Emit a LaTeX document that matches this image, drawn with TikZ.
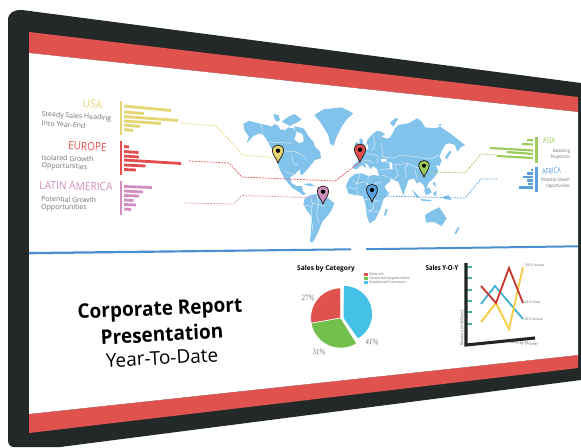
\documentclass[tikz,border=0pt]{standalone}
\usepackage{fontspec}
\setmainfont{Open Sans}
\newfontfamily\serifnum{Liberation Serif}
\definecolor{frame}{HTML}{232928}
\definecolor{band}{HTML}{E0524D}
\definecolor{usac}{HTML}{E6D673}
\definecolor{eurc}{HTML}{E24E4E}
\definecolor{latc}{HTML}{D08FBF}
\definecolor{asic}{HTML}{9CCB5C}
\definecolor{afrc}{HTML}{5AA0DC}
\definecolor{mapc}{HTML}{82C3EC}
\definecolor{rule}{HTML}{4A90D0}
\definecolor{pieb}{HTML}{45C1E8}
\definecolor{pieg}{HTML}{72BF4E}
\definecolor{linr}{HTML}{C9362E}
\definecolor{liny}{HTML}{F6CB45}
\definecolor{linb}{HTML}{3FB1D4}
\definecolor{tickc}{HTML}{4FB583}
\tikzset{
  land/.style={fill=mapc,draw=none},
  border/.style={draw=white,line width=.3pt,opacity=.85},
  hbar/.style={line width=2.1pt},
  vbar/.style={line width=1.7pt},
  link/.style={line width=.55pt,dash pattern=on 1.3pt off .9pt},
  gray text/.style={text=black!55,font=\fontsize{5.25}{6}\selectfont,inner sep=0pt},
  tiny text/.style={text=black!60,font=\fontsize{2.6}{3}\selectfont,inner sep=0pt},
  head/.style={inner sep=0pt},
  pct/.style={text=black!55,font=\serifnum\fontsize{6.2}{7}\selectfont,inner sep=0pt},
  series/.style={line width=1.35pt},
  pinshape/.pic={
    \path[pic actions,draw=black!85,line width=.6pt]
      (0,0) .. controls (-1.2,-4) and (-5.6,-8) .. (-5.6,-12.5)
      .. controls (-5.6,-16) and (-3,-18) .. (0,-18)
      .. controls (3,-18) and (5.6,-16) .. (5.6,-12.5)
      .. controls (5.6,-8) and (1.2,-4) .. (0,0) -- cycle;
    \fill[black] (0,-12.3) circle[radius=2.2];
  }
}
\begin{document}
\begin{tikzpicture}[x=.75pt,y=-.75pt]
\useasboundingbox (0,0) rectangle (581,447);
% monitor
\fill[white] (0,0) rectangle (581,447);
\fill[frame] (8,20) .. controls (8,13) and (14,9.5) .. (22,10) -- (581,83) -- (581,380) -- (60,447) -- (14,447) .. controls (10,447) and (8,444) .. (8,440) -- cycle;
\fill[band] (29,32) -- (578,97) -- (578,112) -- (29,53) -- cycle;
\fill[band] (29,414) -- (578,355) -- (578,368) -- (29,433) -- cycle;
\fill[white] (29,53) -- (578,112) -- (578,355) -- (29,414) -- cycle;
% rule
\fill[rule] (29,252) -- (351,248.3) -- (351,250.3) -- (29,254.3) -- cycle;
\fill[rule] (366,248.2) -- (578,245.3) -- (578,247.3) -- (366,250.2) -- cycle;
% map, west half
\begin{scope}[shift={(235,100)},x=.25pt,y=-.25pt]
\fill[land] (25,72) -- (42,62) -- (62,68) -- (80,72) -- (95,75) -- (110,80) -- (120,72) -- (130,78) -- (135,88) -- (150,90) -- (160,82) -- (175,85) -- (185,95) -- (178,118) -- (192,130) -- (205,125) -- (205,110) -- (200,100) -- (212,95) -- (222,110) -- (235,125) -- (240,140) -- (255,155) -- (258,175) -- (240,180) -- (228,195) -- (215,210) -- (202,225) -- (196,222) -- (195,208) -- (180,222) -- (165,232) -- (170,250) -- (185,258) -- (200,258) -- (205,275) -- (213,282) -- (205,285) -- (190,275) -- (170,262) -- (150,238) -- (135,210) -- (125,182) -- (112,150) -- (100,128) -- (85,105) -- (72,100) -- (55,108) -- (40,125) -- (35,128) -- (42,110) -- (35,100) -- (28,90) -- cycle;
\fill[land] (115,42) -- (130,45) -- (135,60) -- (125,65) -- (118,55) -- cycle;
\fill[land] (140,65) -- (160,50) -- (178,42) -- (200,58) -- (185,68) -- (165,78) -- cycle;
\fill[land] (178,78) -- (205,85) -- (215,98) -- (195,100) -- (180,90) -- cycle;
\fill[land] (205,252) -- (225,250) -- (240,258) -- (222,258) -- cycle;
\fill[land] (238,45) -- (265,28) -- (320,22) -- (355,40) -- (335,58) -- (320,80) -- (305,110) -- (295,138) -- (285,130) -- (280,105) -- (255,65) -- cycle;
\fill[land] (208,298) -- (225,285) -- (245,282) -- (262,290) -- (280,295) -- (298,310) -- (290,330) -- (280,345) -- (262,365) -- (250,395) -- (240,415) -- (232,428) -- (225,425) -- (228,395) -- (230,350) -- (215,330) -- (205,312) -- cycle;
\begin{scope}[border]
\draw (80,72) -- (82,102);
\draw (112,150) -- (180,155) -- (200,165) -- (215,180);
\draw (85,125) -- (170,130);
\draw (150,215) -- (175,222);
\draw (225,285) -- (232,310) -- (270,318);
\draw (232,310) -- (228,350) -- (235,400);
\draw (208,315) -- (232,320);
\draw (245,285) -- (250,305) -- (245,345) -- (252,370);
\draw (170,165) -- (175,190) -- (190,195);
\end{scope}
\end{scope}
% map, east half
\begin{scope}[shift={(340,100)},x=.25pt,y=-.25pt]
\fill[land] (38,205) -- (42,192) -- (52,186) -- (55,175) -- (62,165) -- (68,160) -- (72,150) -- (85,148) -- (84,132) -- (78,135) -- (82,120) -- (95,105) -- (110,93) -- (125,95) -- (135,105) -- (122,108) -- (140,116) -- (150,112) -- (158,100) -- (165,85) -- (175,75) -- (205,70) -- (232,55) -- (245,65) -- (255,82) -- (285,85) -- (300,80) -- (330,100) -- (345,112) -- (375,135) -- (362,142) -- (352,155) -- (345,135) -- (330,130) -- (318,132) -- (305,152) -- (298,170) -- (305,182) -- (298,198) -- (288,195) -- (295,215) -- (280,235) -- (265,250) -- (258,272) -- (250,255) -- (240,245) -- (230,250) -- (222,235) -- (205,240) -- (190,285) -- (175,245) -- (160,240) -- (150,232) -- (152,242) -- (130,262) -- (118,232) -- (112,208) -- (100,198) -- (92,208) -- (85,196) -- (72,186) -- (80,205) -- (68,196) -- (60,198) -- (50,208) -- cycle;
\fill[white] (122,178) -- (138,176) -- (140,184) -- (125,186) -- cycle;
\fill[white] (148,186) -- (155,188) -- (158,208) -- (150,208) -- cycle;
\fill[land] (58,118) -- (66,115) -- (72,138) -- (60,140) -- cycle;
\fill[land] (45,130) -- (54,125) -- (55,137) -- (46,138) -- cycle;
\fill[land] (150,68) -- (165,55) -- (175,55) -- (160,80) -- cycle;
\fill[land] (295,75) -- (305,70) -- (300,80) -- cycle;
\fill[land] (315,172) -- (330,150) -- (333,158) -- (320,178) -- cycle;
\fill[land] (18,258) -- (28,235) -- (45,222) -- (65,220) -- (85,228) -- (100,225) -- (120,228) -- (128,250) -- (140,272) -- (148,280) -- (130,298) -- (122,325) -- (105,360) -- (88,370) -- (80,345) -- (76,310) -- (68,288) -- (45,285) -- (25,280) -- cycle;
\fill[land] (132,345) -- (138,325) -- (143,328) -- (137,348) -- cycle;
\fill[land] (215,268) -- (230,282) -- (240,295) -- (228,290) -- cycle;
\fill[land] (240,297) -- (275,300) -- (272,304) -- (245,302) -- cycle;
\fill[land] (252,270) -- (268,262) -- (275,278) -- (258,285) -- cycle;
\fill[land] (278,280) -- (290,272) -- (288,290) -- cycle;
\fill[land] (305,292) -- (325,285) -- (335,300) -- (318,298) -- cycle;
\fill[land] (278,250) -- (285,245) -- (288,262) -- cycle;
\fill[land] (255,345) -- (280,330) -- (298,322) -- (320,355) -- (305,378) -- (280,365) -- (258,368) -- cycle;
\fill[land] (343,400) -- (355,380) -- (358,385) -- (348,403) -- cycle;
\begin{scope}[border]
\draw (100,105) -- (105,140) -- (95,150);
\draw (80,160) -- (105,165) -- (115,170) -- (110,190);
\draw (62,185) -- (85,180) -- (100,190);
\draw (125,130) -- (128,170) -- (160,175) -- (180,165) -- (230,170) -- (270,178) -- (295,165);
\draw (135,185) -- (165,195) -- (205,190) -- (235,205) -- (270,195);
\draw (165,195) -- (175,225) -- (160,238);
\draw (205,190) -- (195,205) -- (200,232);
\draw (225,208) -- (232,240);
\draw (118,210) -- (150,205);
\draw (128,225) -- (145,232);
\draw (38,240) -- (50,252) -- (72,245) -- (90,258) -- (108,250) -- (125,245);
\draw (60,222) -- (50,252) -- (52,285);
\draw (85,228) -- (82,262) -- (105,285) -- (100,325) -- (85,340);
\draw (90,258) -- (92,295) -- (72,300);
\draw (92,295) -- (118,305);
\draw (78,330) -- (115,335);
\draw (28,262) -- (50,268);
\end{scope}
\end{scope}
% left bar charts
\draw[usac,vbar] (121,101) -- (121,135);
\draw[eurc,vbar] (121,141) -- (121,175);
\draw[latc,vbar] (121,181) -- (121,215);
\begin{scope}[usac,hbar]
\draw (124,106) -- (171,110.5); \draw (124,112) -- (144,113.5); \draw (124,116.5) -- (178,120.5);
\draw (124,121) -- (161,123.5); \draw (124,125) -- (140,126.5); \draw (124,129.5) -- (133,130.5);
\end{scope}
\begin{scope}[eurc,hbar]
\draw (124,146.5) -- (129,147); \draw (124,151.5) -- (138.5,152.5); \draw (124,156) -- (139,157);
\draw (124,160) -- (181,163.5); \draw (124,165) -- (145.5,166); \draw (124,169.5) -- (136,170);
\end{scope}
\begin{scope}[latc,hbar]
\draw (124,186.5) -- (152,187.5); \draw (124,191) -- (143,192); \draw (124,195.5) -- (139,196);
\draw (124,200) -- (133.5,200.5); \draw (124,204.5) -- (136,205); \draw (124,209) -- (131,209.5);
\end{scope}
% right bar charts
\draw[asic,vbar] (536.5,137) -- (536.5,163);
\draw[afrc,vbar] (536.5,167) -- (536.5,192);
\begin{scope}[asic,line width=1.6pt]
\draw (527,140) -- (533,140.3); \draw (522,144) -- (533,144.5); \draw (490,148) -- (533,150.5);
\draw (507,152) -- (533,154); \draw (497,156) -- (533,158);
\end{scope}
\begin{scope}[afrc,line width=1.6pt]
\draw (531,170) -- (533,170); \draw (527,173.5) -- (533,173.5); \draw (523,177) -- (533,177);
\draw (527,180.5) -- (533,180.5); \draw (528,184) -- (533,184); \draw (519,187.5) -- (533,187.5);
\end{scope}
% named ends
\coordinate (usaStart) at (180,123);
\coordinate (eurStart) at (189,161);
\coordinate (latStart) at (184,203);
\coordinate (asiStart) at (497,155);
\coordinate (afrStart) at (497,179);
\coordinate (pinUSA) at (278,163);
\coordinate (pinEUR) at (360,162);
\coordinate (pinLAT) at (323,204);
\coordinate (pinASI) at (424,177);
\coordinate (pinAFR) at (372,202);
% dashed connectors
\draw[usac,link] (usaStart) -- (216,126) -- (243,155) -- (272,157.5);
\draw[eurc,link] (eurStart) -- (229,163) -- (242,177) -- (335,181) -- (pinEUR);
\draw[latc,link] (latStart) -- (233,204) -- (242,195.5) -- (320,198);
\draw[asic,link] (asiStart) -- (481,154) -- (465,173) -- (430,172);
\draw[afrc,link] (afrStart) -- (481,179) -- (465,198) -- (380,196);
% pins
\pic[fill=usac] at (pinUSA) {pinshape};
\pic[fill=eurc] at (pinEUR) {pinshape};
\pic[fill=latc] at (pinLAT) {pinshape};
\pic[fill=asic,scale=.92] at (pinASI) {pinshape};
\pic[fill=afrc,scale=.98] at (pinAFR) {pinshape};
% left labels
\node[head,text=usac,font=\fontsize{8.5}{9}\selectfont,rotate=-5,xscale=.92] (usaHead) at (92.5,104) {USA};
\node[gray text,rotate=-3.5,anchor=west] (usaA) at (41.5,114.5) {Steady Sales Heading};
\node[gray text,rotate=-3.5,anchor=west] (usaB) at (41.5,123) {Into Year-End};
\node[head,text=eurc,font=\fontsize{8.5}{9}\selectfont,rotate=-3,xscale=.88] (eurHead) at (87.5,146.5) {EUROPE};
\node[gray text,anchor=west,rotate=-2] (eurA) at (41.5,157.5) {Isolated Growth};
\node[gray text,anchor=west,rotate=-2] (eurB) at (41.5,166) {Opportunities};
\node[head,text=latc,font=\fontsize{8.5}{9}\selectfont,rotate=-1,xscale=.9] (latHead) at (76,186) {LATIN AMERICA};
\node[gray text,anchor=west,rotate=-1] (latA) at (41,199) {Potential Growth};
\node[gray text,anchor=west,rotate=-1] (latB) at (41,207.5) {Opportunities};
% right labels
\node[head,text=asic,font=\fontsize{6}{7}\selectfont,xscale=.72,rotate=3] (asiHead) at (549,140.5) {ASIA};
\node[head,text=afrc,font=\fontsize{6}{7}\selectfont,xscale=.72,rotate=2] (afrHead) at (551.5,171) {AFRICA};
\node[tiny text,font=\fontsize{3.4}{4}\selectfont,anchor=east,xscale=.8] (asiA) at (570,151) {Exceeding};
\node[tiny text,font=\fontsize{3.4}{4}\selectfont,anchor=east,xscale=.8] (asiB) at (570,157) {Projections};
\node[tiny text,font=\fontsize{3.4}{4}\selectfont,anchor=east,xscale=.8] (afrA) at (570,180) {Potential Growth};
\node[tiny text,font=\fontsize{3.4}{4}\selectfont,anchor=east,xscale=.8] (afrB) at (570,186.5) {Opportunities};
% title
\node[inner sep=0pt,font=\bfseries\fontsize{15}{16}\selectfont,rotate=2.5,xscale=.95] (titleA) at (160,310.5) {Corporate Report};
\node[inner sep=0pt,font=\bfseries\fontsize{15}{16}\selectfont,rotate=3,xscale=.95] (titleB) at (162,334) {Presentation};
\node[inner sep=0pt,font=\fontsize{14.2}{16}\selectfont,rotate=3] (titleC) at (162,358) {Year-To-Date};
% pie
\node[inner sep=0pt,font=\bfseries\fontsize{4.95}{6}\selectfont] (pieTitle) at (326,269) {Sales by Category};
\fill[band,draw=white,line width=.4pt] (340.7,318) -- plot[domain=90:190,samples=40] ({340.7+30*cos(\x)},{318-30*sin(\x)}) -- cycle;
\fill[pieg,draw=white,line width=.4pt] (340.7,318) -- plot[domain=190:302,samples=40] ({340.7+30*cos(\x)},{318-30*sin(\x)}) -- cycle;
\fill[pieb] (343.5,318) -- plot[domain=90:-60,samples=40] ({344+28*cos(\x)},{314-28*sin(\x)}) -- cycle;
\node[pct,rotate=-4,xscale=.85] (p27) at (308,298) {27\%};
\node[pct,rotate=-4,xscale=.85] (p41) at (372,342) {41\%};
\node[pct,rotate=-4,xscale=.85] (p31) at (319,352) {31\%};
\fill[band] (364.3,273) rectangle (368,276);
\fill[pieg] (364.3,277) rectangle (368,280);
\fill[pieb] (364.3,281) rectangle (368,284);
\node[tiny text,anchor=west] (legA) at (369,274.5) {Referrals};
\node[tiny text,anchor=west] (legB) at (369,278.5) {Converted Opportunities};
\node[tiny text,anchor=west] (legC) at (369,282.5) {Established Customers};
% line chart
\node[inner sep=0pt,font=\bfseries\fontsize{5.2}{6}\selectfont,xscale=.85] (lineTitle) at (442,268) {Sales Y-O-Y};
\foreach \yy in {267,278,290,301,312,324} \draw[tickc,line width=.8pt] (467,\yy) -- (472,\yy);
\draw[series,linb] (481,304) -- (495,286) -- (523,319);
\draw[series,liny] (481,322) -- (496,303) -- (509,329) -- (523,267);
\draw[series,linr] (481,286) -- (496,303) -- (509,268) -- (523,303);
\draw[frame!90!black,line width=2.3pt] (466,263) -- (466,345) -- (535,338);
\node[tiny text,anchor=west] (serA) at (525,265) {2015 Actual};
\node[tiny text,anchor=west] (serB) at (524,302) {2015 Goal};
\node[tiny text,anchor=west] (serC) at (524,319) {2013 Actual};
\node[tiny text,font=\fontsize{3.2}{4}\selectfont,rotate=-5,xscale=.85] (xLab) at (524,343.5) {Sales by Quarter};
\node[tiny text,font=\fontsize{3.2}{4}\selectfont,rotate=90,xscale=.85] (yLab) at (462,328) {Revenue (In Millions)};
\end{tikzpicture}
\end{document}
